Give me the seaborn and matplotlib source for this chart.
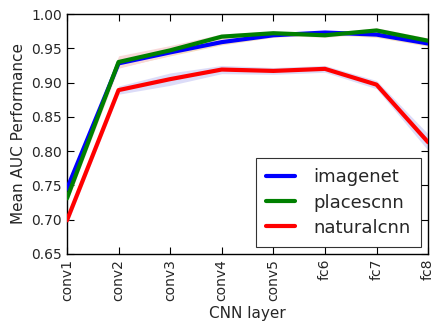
import numpy as np
import pandas as pd
import matplotlib
matplotlib.use("Agg")
import matplotlib.pyplot as plt
import seaborn as sns

# Layers and mean AUC per network
layers = ["conv1", "conv2", "conv3", "conv4", "conv5", "fc6", "fc7", "fc8"]
imagenet = [0.745, 0.928, 0.944, 0.959, 0.969, 0.973, 0.970, 0.957]
placescnn = [0.731, 0.930, 0.947, 0.967, 0.972, 0.969, 0.976, 0.961]
naturalcnn = [0.699, 0.889, 0.905, 0.919, 0.917, 0.920, 0.897, 0.813]

# half-width of the shaded error band
imagenet_err = [0.005, 0.006, 0.005, 0.004, 0.003, 0.003, 0.004, 0.004]
placescnn_err = [0.006, 0.009, 0.007, 0.004, 0.003, 0.003, 0.004, 0.004]
naturalcnn_err = [0.006, 0.006, 0.009, 0.006, 0.005, 0.005, 0.006, 0.012]

series = {"imagenet": imagenet, "placescnn": placescnn, "naturalcnn": naturalcnn}
errors = {"imagenet": imagenet_err, "placescnn": placescnn_err, "naturalcnn": naturalcnn_err}
line_colors = {"imagenet": "#0000ff", "placescnn": "#008000", "naturalcnn": "#ff0000"}
band_colors = {"imagenet": "#f5dcc0", "placescnn": "#f8d8d8", "naturalcnn": "#dcdcf8"}

rows = []
for name, vals in series.items():
    for i, v in enumerate(vals):
        rows.append({"layer": i, "auc": v, "net": name})
df = pd.DataFrame(rows)

sns.set_style("ticks")
plt.rcParams["font.family"] = ["DejaVu Sans"]
plt.rcParams["xtick.direction"] = "in"
plt.rcParams["ytick.direction"] = "in"
plt.rcParams["xtick.top"] = True
plt.rcParams["ytick.right"] = True

fig = plt.figure(figsize=(4.32, 3.26), dpi=100)
ax = fig.add_axes([0.155, 0.221, 0.836, 0.736])

x = np.arange(len(layers))
for name in series:
    v = np.array(series[name])
    e = np.array(errors[name])
    ax.fill_between(x, v - e, v + e, color=band_colors[name], linewidth=0, zorder=1)

sns.lineplot(data=df, x="layer", y="auc", hue="net", palette=line_colors,
             linewidth=3, ax=ax, zorder=3)

ax.set_xlim(0, len(layers) - 1)
ax.set_ylim(0.65, 1.0)
ax.set_xticks(x)
ax.set_xticklabels(layers, rotation=90)
ax.set_yticks(np.arange(0.65, 1.001, 0.05))
ax.set_yticklabels([f"{t:.2f}" for t in np.arange(0.65, 1.001, 0.05)])
ax.tick_params(labelsize=10, length=5, width=0.8, color="black")
ax.set_xlabel("CNN layer", fontsize=11)
ax.set_ylabel("Mean AUC Performance", fontsize=11)
for s in ax.spines.values():
    s.set_color("black")
    s.set_linewidth(1)

leg = ax.legend(loc="lower right", fontsize=13, handlelength=1.6, frameon=True,
                fancybox=False, borderpad=0.55, labelspacing=0.4, handletextpad=1.05,
                borderaxespad=0.4)
leg.get_frame().set_edgecolor("black")
leg.get_frame().set_linewidth(0.8)
for h in leg.get_lines():
    h.set_linewidth(3)

fig.savefig("out.png", dpi=100)
